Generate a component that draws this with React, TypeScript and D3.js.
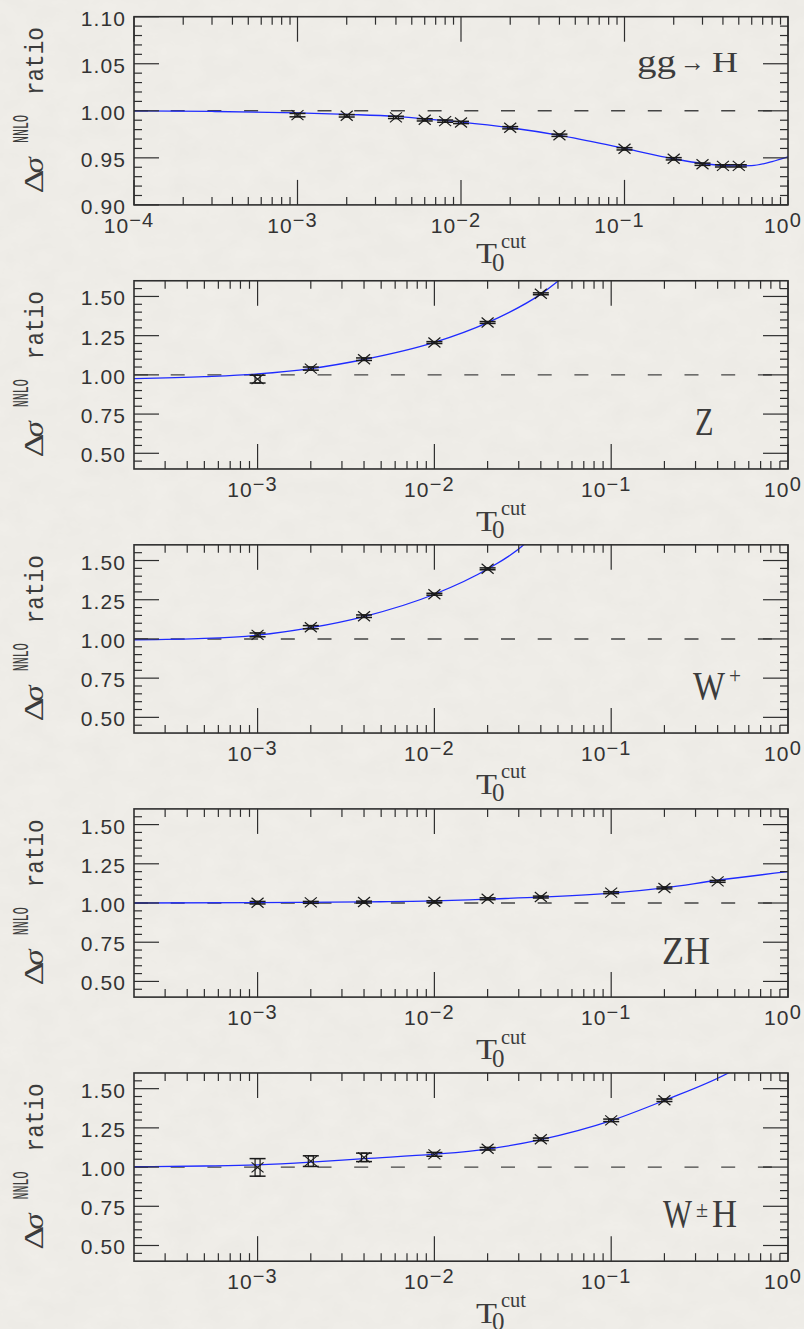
import React from 'react';
import * as d3 from 'd3';

// ---------------- data ----------------
// gg -> H
const GGH_TCUT = [0.001, 0.002, 0.004, 0.006, 0.008, 0.01, 0.02, 0.04, 0.1, 0.2, 0.3, 0.4, 0.5];
const GGH_RATIO = [0.9954, 0.9947, 0.993, 0.9904, 0.989, 0.9876, 0.982, 0.974, 0.9596, 0.949, 0.9432, 0.9415, 0.9415];
const GGH_ERR = [0.0018, 0.0013, 0.0012, 0.0012, 0.0012, 0.0012, 0.0012, 0.0012, 0.0012, 0.0012, 0.0012, 0.0012, 0.0012];
const GGH_FIT_T = [1e-4, 3e-4, 1e-3, 2e-3, 4e-3, 6e-3, 1e-2, 2e-2, 4e-2, 0.1, 0.2, 0.3, 0.45, 0.6, 0.8, 1];
const GGH_FIT_R = [1.0, 0.9993, 0.9978, 0.9962, 0.994, 0.9915, 0.988, 0.982, 0.974, 0.96, 0.949, 0.944, 0.9415, 0.9418, 0.946, 0.951];

// Z
const Z_TCUT = [0.001, 0.002, 0.004, 0.01, 0.02, 0.04];
const Z_RATIO = [0.973, 1.04, 1.1, 1.206, 1.334, 1.517];
const Z_ERR = [0.025, 0.01, 0.008, 0.006, 0.006, 0.006];
const Z_FIT_T = [2e-4, 5e-4, 1e-3, 2e-3, 4e-3, 1e-2, 2e-2, 4e-2, 6e-2];
const Z_FIT_R = [0.976, 0.989, 1.006, 1.04, 1.098, 1.207, 1.333, 1.515, 1.67];

// W+
const WP_TCUT = [0.001, 0.002, 0.004, 0.01, 0.02];
const WP_RATIO = [1.026, 1.075, 1.145, 1.285, 1.447];
const WP_ERR = [0.012, 0.01, 0.008, 0.006, 0.006];
const WP_FIT_T = [2e-4, 5e-4, 1e-3, 2e-3, 4e-3, 1e-2, 2e-2, 3.2e-2, 4.5e-2];
const WP_FIT_R = [0.994, 1.003, 1.024, 1.072, 1.143, 1.285, 1.446, 1.6, 1.78];

// ZH
const ZH_TCUT = [0.001, 0.002, 0.004, 0.01, 0.02, 0.04, 0.1, 0.2, 0.4];
const ZH_RATIO = [1.002, 1.004, 1.006, 1.008, 1.027, 1.038, 1.066, 1.096, 1.138];
const ZH_ERR = [0.008, 0.006, 0.006, 0.006, 0.006, 0.006, 0.006, 0.006, 0.006];
const ZH_FIT_T = [2e-4, 1e-3, 4e-3, 1e-2, 2e-2, 4e-2, 0.1, 0.2, 0.4, 1];
const ZH_FIT_R = [1.0, 1.003, 1.007, 1.013, 1.025, 1.037, 1.063, 1.097, 1.145, 1.2];

// W±H
const WH_TCUT = [0.001, 0.002, 0.004, 0.01, 0.02, 0.04, 0.1, 0.2];
const WH_RATIO = [0.998, 1.038, 1.062, 1.081, 1.117, 1.177, 1.298, 1.426];
const WH_ERR = [0.056, 0.034, 0.027, 0.012, 0.008, 0.008, 0.008, 0.008];
const WH_FIT_T = [2e-4, 5e-4, 1e-3, 2e-3, 4e-3, 1e-2, 2e-2, 4e-2, 0.1, 0.2, 0.46, 0.7];
const WH_FIT_R = [1.002, 1.007, 1.014, 1.031, 1.054, 1.082, 1.115, 1.175, 1.296, 1.425, 1.6, 1.72];

// axis ticks
const GGH_YTICKS = [0.9, 0.95, 1.0, 1.05, 1.1];
const V_YTICKS = [0.5, 0.75, 1.0, 1.25, 1.5];

// ---------------- layout ----------------
const W = 804;
const H = 1329;
const LEFT = 134;
const RIGHT = 788;
const TOP0 = 16.7;
const PH = 188.2;
const STEP = 264.07;
const INK = '#2e2e2e';
const TXT = '#333';
const LIGHT_TXT = '#3c3c3c';
const CURVE = '#1f2bff';
const SANS = '"Liberation Sans", Arial, sans-serif';
const SERIF = '"Liberation Serif", "Times New Roman", serif';
const MONO = '"Liberation Mono", "Courier New", monospace';

type Piece = { t: string; x: number; dy: number; size: number; w: number };

type PanelCfg = {
  id: string;
  xMin: number;
  yDomain: [number, number];
  yTicks: number[];
  yMinor: number;
  tcut: number[];
  ratio: number[];
  err: number[];
  fitT: number[];
  fitR: number[];
  labelBase: number; // baseline offset from panel top
  label: Piece[];
  titleDy: number;
};

const PANELS: PanelCfg[] = [
  {
    id: 'ggh', xMin: 1e-4, yDomain: [0.9, 1.1], yTicks: GGH_YTICKS, yMinor: 0.01,
    tcut: GGH_TCUT, ratio: GGH_RATIO, err: GGH_ERR, fitT: GGH_FIT_T, fitR: GGH_FIT_R,
    labelBase: 55,
    label: [
      { t: 'gg', x: 637, dy: 0, size: 31, w: 39 },
      { t: '→', x: 680, dy: -1, size: 26, w: 25 },
      { t: 'H', x: 712, dy: 0, size: 29, w: 26 },
    ],
    titleDy: 58.5,
  },
  {
    id: 'z', xMin: 2e-4, yDomain: [0.4, 1.6], yTicks: V_YTICKS, yMinor: 0.05,
    tcut: Z_TCUT, ratio: Z_RATIO, err: Z_ERR, fitT: Z_FIT_T, fitR: Z_FIT_R,
    labelBase: 154.3,
    label: [{ t: 'Z', x: 695, dy: 0, size: 39, w: 18.5 }],
    titleDy: 62,
  },
  {
    id: 'wp', xMin: 2e-4, yDomain: [0.4, 1.6], yTicks: V_YTICKS, yMinor: 0.05,
    tcut: WP_TCUT, ratio: WP_RATIO, err: WP_ERR, fitT: WP_FIT_T, fitR: WP_FIT_R,
    labelBase: 154.6,
    label: [
      { t: 'W', x: 693, dy: 0, size: 41, w: 32 },
      { t: '+', x: 729, dy: -16, size: 24, w: 12 },
    ],
    titleDy: 60.5,
  },
  {
    id: 'zh', xMin: 2e-4, yDomain: [0.4, 1.6], yTicks: V_YTICKS, yMinor: 0.05,
    tcut: ZH_TCUT, ratio: ZH_RATIO, err: ZH_ERR, fitT: ZH_FIT_T, fitR: ZH_FIT_R,
    labelBase: 154.6,
    label: [{ t: 'ZH', x: 662, dy: 0, size: 40, w: 48 }],
    titleDy: 62,
  },
  {
    id: 'wh', xMin: 2e-4, yDomain: [0.4, 1.6], yTicks: V_YTICKS, yMinor: 0.05,
    tcut: WH_TCUT, ratio: WH_RATIO, err: WH_ERR, fitT: WH_FIT_T, fitR: WH_FIT_R,
    labelBase: 153.7,
    label: [
      { t: 'W', x: 663, dy: 0, size: 40, w: 29 },
      { t: '±', x: 696, dy: -10, size: 24, w: 12 },
      { t: 'H', x: 712, dy: 0, size: 40, w: 25 },
    ],
    titleDy: 61.6,
  },
];

const MAJOR = 25;
const MINOR = 8;

function Panel({ cfg, index }: { cfg: PanelCfg; index: number }) {
  const top = TOP0 + index * STEP;
  const bottom = top + PH;
  const xs = d3.scaleLog().domain([cfg.xMin, 1]).range([LEFT, RIGHT]);
  const ys = d3.scaleLinear().domain(cfg.yDomain).range([bottom, top]);

  // decade and sub-decade ticks
  const lo = Math.floor(Math.log10(cfg.xMin));
  const majorsX: number[] = [];
  const minorsX: number[] = [];
  for (let e = lo; e <= 0; e++) {
    const base = Math.pow(10, e);
    if (base >= cfg.xMin * 0.999) majorsX.push(base);
    if (e < 0) {
      for (let k = 2; k <= 9; k++) {
        const v = k * base;
        if (v > cfg.xMin * 1.001 && v < 1) minorsX.push(v);
      }
    }
  }
  const [y0, y1] = cfg.yDomain;
  const nMinor = Math.round((y1 - y0) / cfg.yMinor);
  const minorsY = d3.range(1, nMinor)
    .map((i) => +(y0 + i * cfg.yMinor).toFixed(4))
    .filter((v) => !cfg.yTicks.some((t) => Math.abs(t - v) < 1e-6));

  const fit = d3.line<number>()
    .x((_, i) => xs(cfg.fitT[i]))
    .y((r) => ys(r))
    .curve(d3.curveMonotoneX)(cfg.fitR) || '';

  const clipId = `clip-${cfg.id}`;
  const cy = (top + bottom) / 2;

  return (
    <g>
      <defs>
        <clipPath id={clipId}>
          <rect x={LEFT} y={top} width={RIGHT - LEFT} height={PH} />
        </clipPath>
      </defs>

      {/* reference line at ratio 1 */}
      <line x1={LEFT} x2={RIGHT} y1={ys(1)} y2={ys(1)} stroke="#444" strokeWidth={1.4}
        strokeDasharray="14 22.7" />

      {/* fitted curve */}
      <path d={fit} fill="none" stroke={CURVE} strokeWidth={1.3} clipPath={`url(#${clipId})`} />

      {/* points with error bars */}
      <g stroke="#1a1a1a" strokeWidth={1.2} fill="none">
        {cfg.tcut.map((t, i) => {
          const px = xs(t);
          const py = ys(cfg.ratio[i]);
          const yt = ys(cfg.ratio[i] + cfg.err[i]);
          const yb = ys(cfg.ratio[i] - cfg.err[i]);
          return (
            <g key={i}>
              <rect x={px - 2.5} y={yt} width={5} height={Math.max(yb - yt, 1)} />
              <line x1={px - 8} x2={px + 8} y1={yt} y2={yt} strokeWidth={1.5} />
              <line x1={px - 8} x2={px + 8} y1={yb} y2={yb} strokeWidth={1.5} />
              <line x1={px - 6} x2={px + 6} y1={py - 5} y2={py + 5} />
              <line x1={px - 6} x2={px + 6} y1={py + 5} y2={py - 5} />
            </g>
          );
        })}
      </g>

      {/* frame and ticks */}
      <g stroke={INK} strokeWidth={1.2}>
        {majorsX.map((v) => (
          <g key={`mx${v}`}>
            <line x1={xs(v)} x2={xs(v)} y1={bottom} y2={bottom - MAJOR} />
            <line x1={xs(v)} x2={xs(v)} y1={top} y2={top + MAJOR} />
          </g>
        ))}
        {minorsX.map((v) => (
          <g key={`nx${v}`}>
            <line x1={xs(v)} x2={xs(v)} y1={bottom} y2={bottom - MINOR} />
            <line x1={xs(v)} x2={xs(v)} y1={top} y2={top + MINOR} />
          </g>
        ))}
        {cfg.yTicks.map((v) => (
          <g key={`my${v}`}>
            <line x1={LEFT} x2={LEFT + MAJOR} y1={ys(v)} y2={ys(v)} />
            <line x1={RIGHT} x2={RIGHT - MAJOR} y1={ys(v)} y2={ys(v)} />
          </g>
        ))}
        {minorsY.map((v) => (
          <g key={`ny${v}`}>
            <line x1={LEFT} x2={LEFT + MINOR} y1={ys(v)} y2={ys(v)} />
            <line x1={RIGHT} x2={RIGHT - MINOR} y1={ys(v)} y2={ys(v)} />
          </g>
        ))}
        <rect x={LEFT} y={top} width={RIGHT - LEFT} height={PH} fill="none" strokeWidth={1.6} />
      </g>

      {/* y tick labels */}
      <g fontFamily={SANS} fontSize={21} fill={TXT} letterSpacing={1.1}>
        {cfg.yTicks.map((v) => (
          <text key={`ly${v}`} x={126} y={ys(v) + 1.5} textAnchor="end" dominantBaseline="central">
            {d3.format('.2f')(v)}
          </text>
        ))}
      </g>

      {/* x tick labels: powers of ten */}
      <g fontFamily={SANS} fontSize={21} fill={TXT} letterSpacing={1.1}>
        {majorsX.map((v) => {
          const e = Math.round(Math.log10(v));
          return (
            <text key={`lx${v}`} x={xs(v) - 5} y={bottom + 28.2} textAnchor="middle">
              <tspan>10</tspan>
              <tspan dy={-6} fontSize={20}>{e === 0 ? '0' : `−${-e}`}</tspan>
            </text>
          );
        })}
      </g>

      {/* x axis title */}
      <g fontFamily={SERIF} fill={LIGHT_TXT}>
        <text x={476} y={bottom + cfg.titleDy} fontSize={30} textLength={21} lengthAdjust="spacingAndGlyphs">T</text>
        <text x={492} y={bottom + cfg.titleDy + 7.5} fontSize={25} textLength={12.5} lengthAdjust="spacingAndGlyphs">0</text>
        <text x={501} y={bottom + cfg.titleDy - 15.5} fontSize={21} textLength={25} lengthAdjust="spacingAndGlyphs">cut</text>
      </g>

      {/* y axis title */}
      <g transform={`translate(42.5,${cy}) rotate(-90)`} fill={LIGHT_TXT}>
        <text x={-82.6} y={0} fontFamily={SERIF} fontSize={27} textLength={24} lengthAdjust="spacingAndGlyphs">Δ</text>
        <text x={-62.5} y={0} fontFamily={SERIF} fontSize={27} fontStyle="italic" textLength={16} lengthAdjust="spacingAndGlyphs">σ</text>
        <text x={-32.3} y={-14.5} fontFamily={MONO} fontSize={22} textLength={28} lengthAdjust="spacingAndGlyphs">NNLO</text>
        <text x={15.7} y={0} fontFamily={MONO} fontSize={25} textLength={68} lengthAdjust="spacingAndGlyphs">ratio</text>
      </g>

      {/* process label */}
      <g fontFamily={SERIF} fill={LIGHT_TXT}>
        {cfg.label.map((p, i) => (
          <text key={i} x={p.x} y={top + cfg.labelBase + p.dy} fontSize={p.size}
            textLength={p.w} lengthAdjust="spacingAndGlyphs">
            {p.t}
          </text>
        ))}
      </g>
    </g>
  );
}

export default function App() {
  return (
    <svg width={W} height={H} viewBox={`0 0 ${W} ${H}`}
      style={{ position: 'absolute', left: 0, top: 0, display: 'block' }}>
      <defs>
        {/* faint paper grain */}
        <filter id="paper" x="0" y="0" width="100%" height="100%">
          <feTurbulence type="fractalNoise" baseFrequency="0.035 0.05" numOctaves={4} seed={7} result="n" />
          <feColorMatrix type="matrix"
            values="0 0 0 0 0.45  0 0 0 0 0.44  0 0 0 0 0.41  0 0 0 0.09 0" />
        </filter>
      </defs>
      <rect x={0} y={0} width={W} height={H} fill="#f1efea" />
      <rect x={0} y={0} width={W} height={H} filter="url(#paper)" />
      {PANELS.map((p, i) => (
        <Panel key={p.id} cfg={p} index={i} />
      ))}
    </svg>
  );
}
